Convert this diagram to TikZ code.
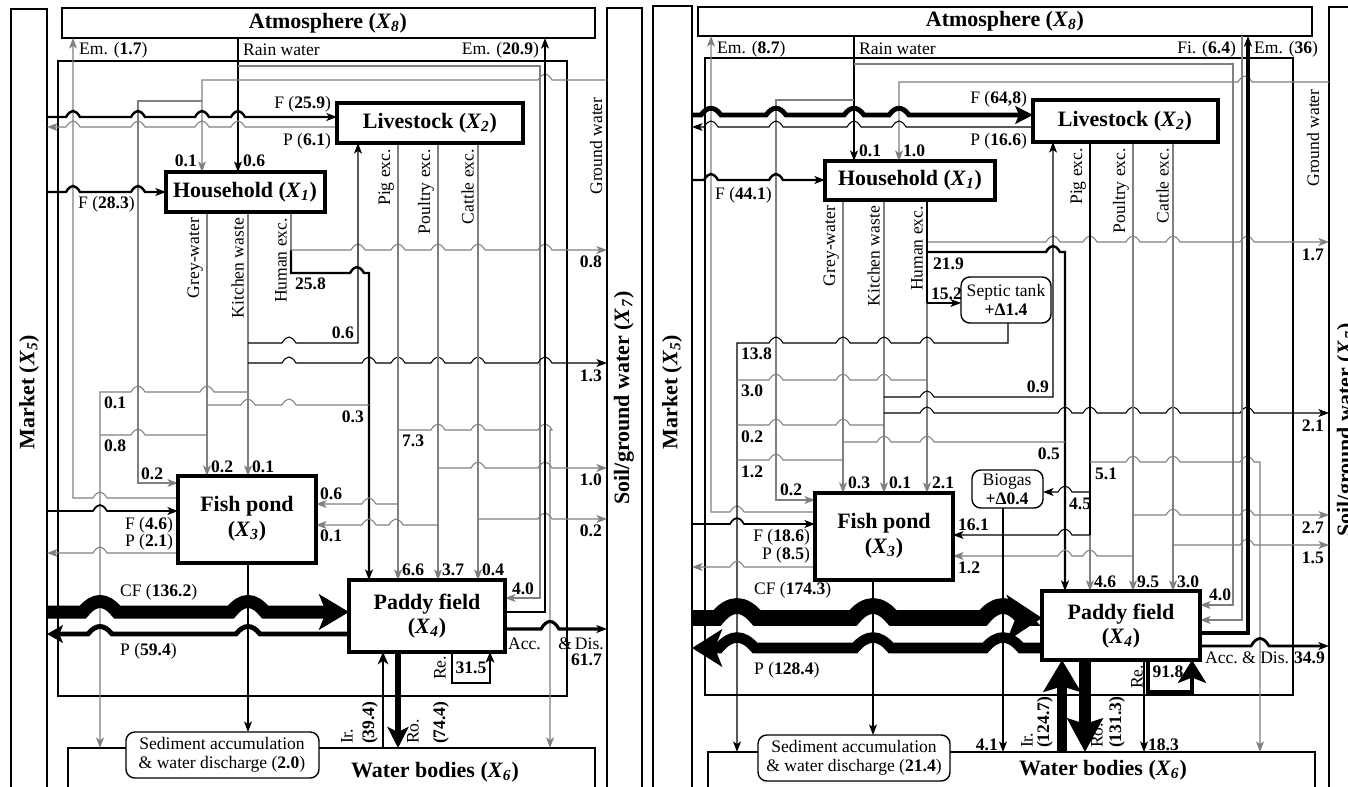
\documentclass[tikz,border=0pt]{standalone}
\usepackage{fontspec}
\setmainfont{Liberation Serif}
\usetikzlibrary{arrows.meta}

\newcommand\xv[1]{\textit{X}\textsubscript{\textit{#1}}}
% hop-over bumps on horizontal flows
\def\hw{7}\def\hh{8}
\newcommand\hopR[2]{\foreach \bx in {#2}{ -- ({\bx-\hw},#1) .. controls ({\bx-\hw/3},{#1-\hh}) and ({\bx+\hw/3},{#1-\hh}) .. ({\bx+\hw},#1)}}
\newcommand\hopL[2]{\foreach \bx in {#2}{ -- ({\bx+\hw},#1) .. controls ({\bx+\hw/3},{#1-\hh}) and ({\bx-\hw/3},{#1-\hh}) .. ({\bx-\hw},#1)}}

\tikzset{
  lab/.style={font=\fontsize{10}{11}\selectfont, inner sep=1pt},
  num/.style={font=\fontsize{10}{11}\selectfont\bfseries, inner sep=1pt},
  ttl/.style={font=\fontsize{12.5}{14}\selectfont\bfseries, align=center, inner sep=1pt},
  vlab/.style={lab, rotate=90, anchor=south east},
  pbox/.style={line width=1.8pt},
  ebox/.style={line width=0.8pt},
  sbox/.style={line width=0.8pt, rounded corners=5pt, fill=white},
  gfl/.style={black!50, line width=0.6pt},
  kfl/.style={black, line width=0.6pt},
  thk/.style={black, line width=1.4pt},
  arr/.style={-{Stealth[length=6pt,width=4.5pt,inset=1.5pt]}},
}

\begin{document}
\begin{tikzpicture}[x=0.02cm, y=-0.02cm, line join=miter]
\useasboundingbox (0,0) rectangle (1348,787);
\clip (0,0) rectangle (1348,787);

%%%%%%%%%%%%%%%%%%%% left panel %%%%%%%%%%%%%%%%%%%%
% environment
\draw[ebox] (11,9) rectangle (47,800);
\node[ttl, rotate=90] (mkA) at (29,392) {Market (\xv5)};
\draw[ebox] (62,8) rectangle (595,38);
\node[ttl] (atA) at (328,23) {Atmosphere (\xv8)};
\draw[ebox] (607,8) rectangle (642,800);
\node[ttl, rotate=90] (sgA) at (624,398) {Soil/ground water (\xv7)};
\draw[ebox] (68,748) rectangle (595,800);
\node[ttl] (wbA) at (435,772) {Water bodies (\xv6)};
\draw[ebox] (58,61) rectangle (567,696);

% rain water and ground water
\draw[kfl, arr] (238,38) -- (238,172);
\node[lab, anchor=west] at (241,50) {Rain water};
\node[num, anchor=west] at (241,161) {0.6};
\draw[gfl, arr] (238,66) -- (540,66) -- (540,598) -- (505,598);
\node[num, anchor=south] at (523,597) {4.0};
\draw[gfl, arr] (607,80) \hopL{80}{545} -- (202,80) -- (202,172);
\node[num, anchor=east] at (199,161) {0.1};
\node[lab, rotate=90] at (596,146) {Ground water};
\draw[gfl, arr] (202,101) -- (138,101) -- (138,483) -- (178,483);
\node[num, anchor=south west] at (139,482) {0.2};

% emission of fish pond
\draw[gfl, arr] (178,498) \hopL{498}{100} -- (73,498) -- (73,38);
\node[lab, anchor=west] at (77,50) {Em. (\textbf{1.7})};

% market - livestock - household
\draw[thk, arr] (47,117) \hopR{117}{73,138,202,238} -- (337,117);
\node[lab, anchor=south east] at (333,114) {F (\textbf{25.9})};
\draw[gfl, arr] (337,127) \hopL{127}{238,202,138,73} -- (47,127);
\node[lab, anchor=north east] at (333,131) {P (\textbf{6.1})};
\draw[thk, arr] (47,192) \hopR{192}{73,138} -- (166,192);
\node[lab, anchor=north west] at (76,194) {F (\textbf{28.3})};

% household outputs
\draw[gfl, arr] (207,212) -- (207,476);
\draw[gfl, arr] (248,212) -- (248,476);
\node[vlab] at (205,216) {Grey-water};
\node[vlab] at (246,216) {Kitchen waste};
\node[vlab] at (289,216) {Human exc.};
\node[num, anchor=west] at (209,467) {0.2};
\node[num, anchor=west] at (250,467) {0.1};
\draw[gfl] (291,212) -- (291,250);
\draw[thk, arr] (291,250) -- (291,273) \hopR{273}{357} -- (369,273) -- (369,580);
\node[num, anchor=north west] at (293,276) {25.8};
\draw[gfl, arr] (291,250) \hopR{250}{358,398,438,478,545} -- (607,250);
\node[num, anchor=north east] at (604,254) {0.8};
\draw[kfl, arr] (248,343) \hopR{343}{289} -- (358,343) -- (358,143);
\node[num, anchor=south east] at (356,341) {0.6};
\draw[kfl, arr] (248,363) \hopR{363}{289,369,398,438,478,545} -- (607,363);
\node[num, anchor=north east] at (604,368) {1.3};
\draw[gfl, arr] (248,392) \hopL{392}{207,138} -- (100,392) -- (100,748);
\node[num, anchor=north west] at (102,395) {0.1};
\draw[gfl] (207,405) \hopR{405}{248,289} -- (369,405);
\node[num, anchor=north east] at (366,409) {0.3};
\draw[gfl] (207,435) \hopL{435}{138} -- (100,435);
\node[num, anchor=north west] at (102,438) {0.8};

% livestock outputs
\draw[gfl, arr] (398,143) -- (398,580);
\draw[gfl, arr] (438,143) -- (438,580);
\draw[gfl, arr] (478,143) -- (478,580);
\node[vlab] at (396,147) {Pig exc.};
\node[vlab] at (436,147) {Poultry exc.};
\node[vlab] at (476,147) {Cattle exc.};
\node[num, anchor=west] at (400,570) {6.6};
\node[num, anchor=west] at (440,570) {3.7};
\node[num, anchor=west] at (480,570) {0.4};
\draw[gfl, arr] (398,430) \hopR{430}{438,478,545} -- (550,430) -- (550,748);
\node[num, anchor=north west] at (400,433) {7.3};
\draw[gfl, arr] (438,468) \hopR{468}{478,545} -- (607,468);
\node[num, anchor=north east] at (604,472) {1.0};
\draw[gfl, arr] (478,519) \hopR{519}{545} -- (607,519);
\node[num, anchor=north east] at (604,523) {0.2};
\draw[gfl, arr] (398,504) \hopL{504}{369} -- (316,504);
\node[num, anchor=south west] at (318,502) {0.6};
\draw[gfl, arr] (438,525) \hopL{525}{396,369} -- (316,525);
\node[num, anchor=north west] at (318,528) {0.1};

% market - fish pond
\draw[thk, line width=1pt, arr] (47,511) \hopR{511}{100} -- (178,511);
\node[lab, anchor=east] at (175,525) {F (\textbf{4.6})};
\draw[gfl, arr] (178,553) \hopL{553}{100} -- (47,553);
\node[lab, anchor=east] at (175,542) {P (\textbf{2.1})};
\draw[kfl, arr] (248,563) -- (248,732);

% market - paddy field
{\def\hw{17}\def\hh{14}
\draw[line width=7.4pt, -{Stealth[length=17pt,width=20pt,inset=4pt]}] (47,612) \hopR{612}{100,248} -- (349,612);}
\node[lab, anchor=south west] at (118,602) {CF (\textbf{136.2})};
{\def\hw{12}\def\hh{10}
\draw[line width=2.8pt, -{Stealth[length=9pt,width=10pt,inset=2pt]}] (349,634) \hopL{634}{248,100} -- (47,634);}
\node[lab, anchor=north west] at (118,641) {P (\textbf{59.4})};

% paddy field - water bodies
\draw[line width=1.5pt, -{Stealth[length=7pt,width=6pt,inset=2pt]}] (383,748) -- (383,652);
\draw[line width=3.4pt, -{Stealth[length=12pt,width=12pt,inset=3pt]}] (398,652) -- (398,748);
\node[lab, rotate=90, anchor=west] at (347,746) {Ir.};
\node[num, rotate=90, anchor=west] at (370,746) {(39.4)};
\node[lab, rotate=90, anchor=west] at (413,746) {Ro.};
\node[num, rotate=90, anchor=west] at (441,746) {(74.4)};
\draw[line width=1.4pt, -{Stealth[length=6pt,width=5pt,inset=1.5pt]}] (452,652) -- (452,683) -- (490,683) -- (490,652);
\node[num] at (471,668) {31.5};
\node[lab, rotate=90] at (440,668) {Re.};
{\def\hw{9}\def\hh{10}
\draw[line width=1.8pt, arr] (505,629) \hopR{629}{550} -- (607,629);}
\node[lab, anchor=west] at (506,644) {Acc.\quad\&\,Dis.};
\node[num, anchor=east] at (604,660) {61.7};
\draw[black, line width=1pt, arr] (505,612) -- (545,612) -- (545,38);
\node[lab, anchor=east] at (541,50) {Em. (\textbf{20.9})};

% process boxes
\draw[pbox, fill=white] (166,172) rectangle (325,212);
\node[ttl] (hhA) at (245,192) {Household (\xv1)};
\draw[pbox, fill=white] (337,103) rectangle (523,143);
\node[ttl] (lvA) at (430,123) {Livestock (\xv2)};
\draw[pbox, fill=white] (178,476) rectangle (316,563);
\node[ttl] (fpA) at (247,519) {Fish pond\\(\xv3)};
\draw[pbox, fill=white] (349,580) rectangle (505,652);
\node[ttl] (pfA) at (427,616) {Paddy field\\(\xv4)};
\draw[sbox] (126,732) rectangle (319,778);
\node[lab, align=center] (sdA) at (222,755) {Sediment accumulation\\\& water discharge (\textbf{2.0})};

%%%%%%%%%%%%%%%%%%%% right panel %%%%%%%%%%%%%%%%%%%%
% environment
\draw[ebox] (653,6) rectangle (692,800);
\node[ttl, rotate=90] (mkB) at (672,392) {Market (\xv5)};
\draw[ebox] (698,7) rectangle (1312,36);
\node[ttl] (atB) at (1005,21) {Atmosphere (\xv8)};
\draw[ebox] (1329,7) rectangle (1380,800);
\node[ttl, rotate=90] (sgB) at (1347,430) {Soil/ground water (\xv7)};
\draw[ebox] (708,752) rectangle (1315,800);
\node[ttl] (wbB) at (1103,770) {Water bodies (\xv6)};
\draw[ebox] (705,58) rectangle (1293,695);

% rain water and ground water
\draw[kfl, arr] (854,36) -- (854,161);
\node[lab, anchor=west] at (857,49) {Rain water};
\node[num, anchor=west] at (857,151) {0.1};
\draw[gfl, arr] (854,64) -- (1233,64) -- (1233,605) -- (1200,605);
\node[num, anchor=south west] at (1207,603) {4.0};
\draw[gfl, arr] (854,100) -- (776,100) -- (776,500) -- (815,500);
\node[num, anchor=south west] at (778,498) {0.2};
\draw[gfl, arr] (1329,82) \hopL{82}{1245} -- (899,82) -- (899,161);
\node[num, anchor=west] at (901,151) {1.0};
\node[lab, rotate=90] at (1313,138) {Ground water};

% emission of fish pond
\draw[gfl, arr] (815,512) \hopL{512}{737} -- (711,512) -- (711,36);
\node[lab, anchor=west] at (715,49) {Em. (\textbf{8.7})};

% market - livestock - household
{\def\hw{10}\def\hh{9}
\draw[line width=2.8pt, -{Stealth[length=10pt,width=10pt,inset=2pt]}] (692,115) \hopR{115}{711,776,854,899} -- (1033,115);}
\node[lab, anchor=south east] at (1029,109) {F (\textbf{64,8})};
\draw[kfl, arr] (1033,127) \hopL{127}{899,854,776,711} -- (692,127);
\node[lab, anchor=north east] at (1029,131) {P (\textbf{16.6})};
\draw[thk, arr] (692,180) \hopR{180}{711,776} -- (825,180);
\node[lab, anchor=north west] at (713,185) {F (\textbf{44.1})};

% household outputs
\draw[gfl, arr] (843,200) -- (843,493);
\draw[gfl, arr] (884,200) -- (884,493);
\draw[gfl, arr] (927,303) -- (927,493);
\node[vlab] at (841,204) {Grey-water};
\node[vlab] at (882,204) {Kitchen waste};
\node[vlab] at (925,204) {Human exc.};
\node[num, anchor=west] at (846,483) {0.3};
\node[num, anchor=west] at (887,483) {0.1};
\node[num, anchor=west] at (930,483) {2.1};
\draw[thk] (927,200) -- (927,303);
\draw[thk, arr] (927,252) \hopR{252}{1053} -- (1065,252) -- (1065,591);
\node[num, anchor=north west] at (931,256) {21.9};
\draw[kfl, arr] (927,303) -- (961,303);
\node[num, anchor=south west] at (929,302) {15.2};
\draw[gfl, arr] (928,242) \hopR{242}{1053,1090,1133,1173,1247} -- (1329,242);
\node[num, anchor=north east] at (1326,247) {1.7};
\draw[kfl, arr] (1008,323) -- (1008,343) \hopL{343}{927,884,843,776} -- (737,343) -- (737,752);
\node[num, anchor=north west] at (739,346) {13.8};
\draw[gfl] (927,380) \hopL{380}{884,843,776} -- (737,380);
\node[num, anchor=north west] at (739,383) {3.0};
\draw[gfl] (884,425) \hopL{425}{843,776} -- (737,425);
\node[num, anchor=north west] at (739,429) {0.2};
\draw[gfl] (843,460) \hopL{460}{776} -- (737,460);
\node[num, anchor=north west] at (739,464) {1.2};
\draw[kfl, arr] (884,397) \hopR{397}{927} -- (1053,397) -- (1053,142);
\node[num, anchor=south east] at (1051,395) {0.9};
\draw[kfl, arr] (884,413) \hopR{413}{927,1065,1090,1133,1173,1247} -- (1329,413);
\node[num, anchor=north east] at (1326,418) {2.1};
\draw[gfl] (843,442) \hopR{442}{884,927} -- (1065,442);
\node[num, anchor=north east] at (1062,446) {0.5};

% livestock outputs
\draw[line width=1pt] (1090,142) -- (1090,535);
\draw[gfl, arr] (1090,535) -- (1090,591);
\draw[gfl, arr] (1133,142) -- (1133,591);
\draw[gfl, arr] (1173,142) -- (1173,591);
\node[vlab] at (1088,146) {Pig exc.};
\node[vlab] at (1131,146) {Poultry exc.};
\node[vlab] at (1171,146) {Cattle exc.};
\node[num, anchor=west] at (1092,582) {4.6};
\node[num, anchor=west] at (1135,582) {9.5};
\node[num, anchor=west] at (1175,582) {3.0};
\draw[kfl, arr] (1090,492) \hopL{492}{1065} -- (1043,492);
\node[num, anchor=north west] at (1067,496) {4.5};
\draw[gfl, arr] (1090,462) \hopR{462}{1133,1173,1247} -- (1260,462) -- (1260,752);
\node[num, anchor=north west] at (1093,466) {5.1};
\draw[gfl, arr] (1133,515) \hopR{515}{1173,1247} -- (1329,515);
\node[num, anchor=north east] at (1326,520) {2.7};
\draw[gfl, arr] (1173,545) \hopR{545}{1247} -- (1329,545);
\node[num, anchor=north east] at (1326,550) {1.5};
\draw[kfl, arr] (1090,535) \hopL{535}{1065} -- (953,535);
\node[num, anchor=south west] at (956,533) {16.1};
\draw[gfl, arr] (1133,556) \hopL{556}{1090,1065} -- (953,556);
\node[num, anchor=north west] at (956,560) {1.2};

% market - fish pond
\draw[thk, line width=1pt, arr] (692,524) \hopR{524}{737} -- (815,524);
\node[lab, anchor=east] at (812,537) {F (\textbf{18.6})};
\draw[gfl, arr] (815,567) \hopL{567}{737} -- (692,567);
\node[lab, anchor=east] at (812,555) {P (\textbf{8.5})};
\draw[kfl, arr] (873,580) -- (873,735);
\draw[kfl, arr] (1003,508) -- (1003,752);
\node[num, anchor=east] at (1000,745) {4.1};

% market - paddy field
{\def\hw{20}\def\hh{16}
\draw[line width=9pt, -{Stealth[length=20pt,width=26pt,inset=5pt]}] (692,618) \hopR{618}{737,873,1003} -- (1042,618);}
\node[lab, anchor=south west] at (752,600) {CF (\textbf{174.3})};
{\def\hw{18}\def\hh{14}
\draw[line width=6pt, -{Stealth[length=17pt,width=21pt,inset=4pt]}] (1042,648) \hopL{648}{1003,873,737} -- (692,648);}
\node[lab, anchor=north west] at (752,660) {P (\textbf{128.4})};

% paddy field - water bodies
\draw[line width=5.7pt, -{Stealth[length=18pt,width=21pt,inset=3pt]}] (1062,752) -- (1062,660);
\draw[line width=6.5pt, -{Stealth[length=19pt,width=20pt,inset=3pt]}] (1085,660) -- (1085,752);
\node[lab, rotate=90, anchor=west] at (1027,750) {Ir.};
\node[num, rotate=90, anchor=west] at (1045,750) {(124.7)};
\node[lab, rotate=90, anchor=west] at (1097,750) {Ro.};
\node[num, rotate=90, anchor=west] at (1117,750) {(131.3)};
\draw[kfl, arr] (1144,660) -- (1144,752);
\node[num, anchor=west] at (1146,745) {18.3};
\draw[line width=2.8pt, -{Stealth[length=13pt,width=16pt,inset=3pt]}] (1148,660) -- (1148,692) -- (1192,692) -- (1192,660);
\node[num] at (1168,672) {91.8};
\node[lab, rotate=90] at (1137,677) {Re.};
{\def\hw{9}\def\hh{10}
\draw[line width=1.6pt, arr] (1200,646) \hopR{646}{1260} -- (1329,646);}
\node[lab, anchor=west] at (1203,658) {Acc.\ \&\ Dis.};
\node[num, anchor=east] at (1327,658) {34.9};
\draw[line width=2pt, arr] (1200,633) -- (1248,633) -- (1248,36);
\node[lab, anchor=west] at (1252,49) {Em. (\textbf{36})};
\draw[gfl, arr] (1242,36) -- (1242,620) -- (1200,620);
\node[lab, anchor=east] at (1238,49) {Fi. (\textbf{6.4})};

% process boxes
\draw[pbox, fill=white] (825,161) rectangle (995,200);
\node[ttl] (hhB) at (910,180) {Household (\xv1)};
\draw[pbox, fill=white] (1033,100) rectangle (1218,142);
\node[ttl] (lvB) at (1125,121) {Livestock (\xv2)};
\draw[pbox, fill=white] (815,493) rectangle (953,580);
\node[ttl] (fpB) at (884,536) {Fish pond\\(\xv3)};
\draw[pbox, fill=white] (1042,591) rectangle (1200,660);
\node[ttl] (pfB) at (1121,626) {Paddy field\\(\xv4)};
\draw[sbox] (961,277) rectangle (1051,323);
\node[lab, align=center] (stB) at (1006,300) {Septic tank\\\textbf{+Δ1.4}};
\draw[sbox] (972,470) rectangle (1043,508);
\node[lab, align=center] (bgB) at (1007,489) {Biogas\\\textbf{+Δ0.4}};
\draw[sbox] (758,735) rectangle (950,781);
\node[lab, align=center] (sdB) at (854,758) {Sediment accumulation\\\& water discharge (\textbf{21.4})};
\end{tikzpicture}
\end{document}
